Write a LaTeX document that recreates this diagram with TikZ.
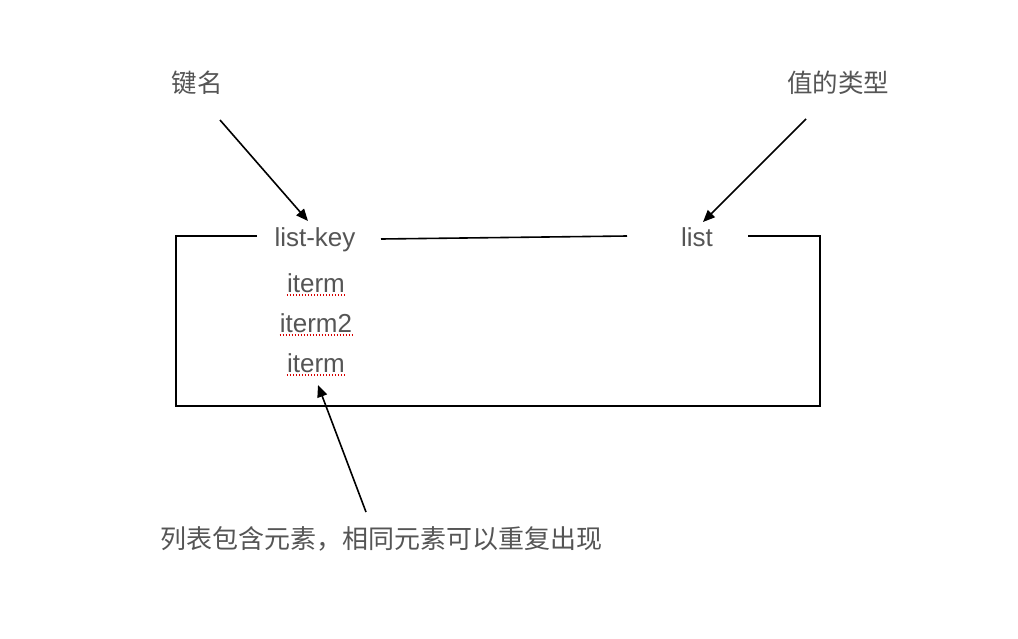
\documentclass[tikz,border=0pt]{standalone}
\usepackage{fontspec}
\setmainfont{Liberation Sans}
\newfontfamily\cjk{Noto Sans CJK SC}
\usetikzlibrary{arrows.meta}
\definecolor{txt}{HTML}{555555}
\tikzset{
  lat/.style={inner sep=0pt, anchor=base, text=txt, font=\fontsize{26pt}{30pt}\selectfont},
  zh/.style={inner sep=0pt, anchor=center, text=txt, font=\cjk\fontsize{25.5pt}{30pt}\selectfont},
  zhs/.style={inner sep=0pt, anchor=center, text=txt, font=\cjk\fontsize{26pt}{30pt}\selectfont},
  ln/.style={line width=1.6pt, black},
  arr/.style={line width=1.6pt, black, -{Triangle[length=12pt,width=10pt]}},
  spell/.style={red!85!black, line width=1.2pt, dash pattern=on 1.5pt off 1.5pt}
}
\begin{document}
\begin{tikzpicture}[x=1pt,y=-1pt]
\useasboundingbox (0,0) rectangle (1018,638);
% labels
\node[zh] (jm) at (197,83) {键名};
\node[zh] (lx) at (838,83) {值的类型};
\node[lat] (lk) at (315,246) {list-key};
\node[lat] (ls) at (697,246) {list};
\node[lat] (i1) at (316,292) {iterm};
\node[lat] (i2) at (316,332) {iterm2};
\node[lat] (i3) at (316,372) {iterm};
\node[zhs] (ds) at (381,539) {列表包含元素，相同元素可以重复出现};
% spell-check underlines
\draw[spell] ([yshift=-3pt]i1.base west) -- ([yshift=-3pt]i1.base east);
\draw[spell] ([yshift=-3pt]i2.base west) -- ([yshift=-3pt]i2.base east);
\draw[spell] ([yshift=-3pt]i3.base west) -- ([yshift=-3pt]i3.base east);
% box
\coordinate (b1) at (257,236);
\coordinate (c1) at (176,236);
\coordinate (c2) at (176,406);
\coordinate (c3) at (820,406);
\coordinate (c4) at (820,236);
\coordinate (b2) at (748,236);
\draw[ln] (b1) -- (c1) -- (c2) -- (c3) -- (c4) -- (b2);
\coordinate (m1) at (381,239);
\coordinate (m2) at (627,236);
\draw[ln] (m1) -- (m2);
% arrows
\coordinate (a1s) at (220,120);
\coordinate (a1e) at (308,221);
\coordinate (a2s) at (806,119);
\coordinate (a2e) at (703,222);
\coordinate (a3s) at (366,512);
\coordinate (a3e) at (318,385);
\draw[arr] (a1s) -- (a1e);
\draw[arr] (a2s) -- (a2e);
\draw[arr] (a3s) -- (a3e);
\end{tikzpicture}
\end{document}
